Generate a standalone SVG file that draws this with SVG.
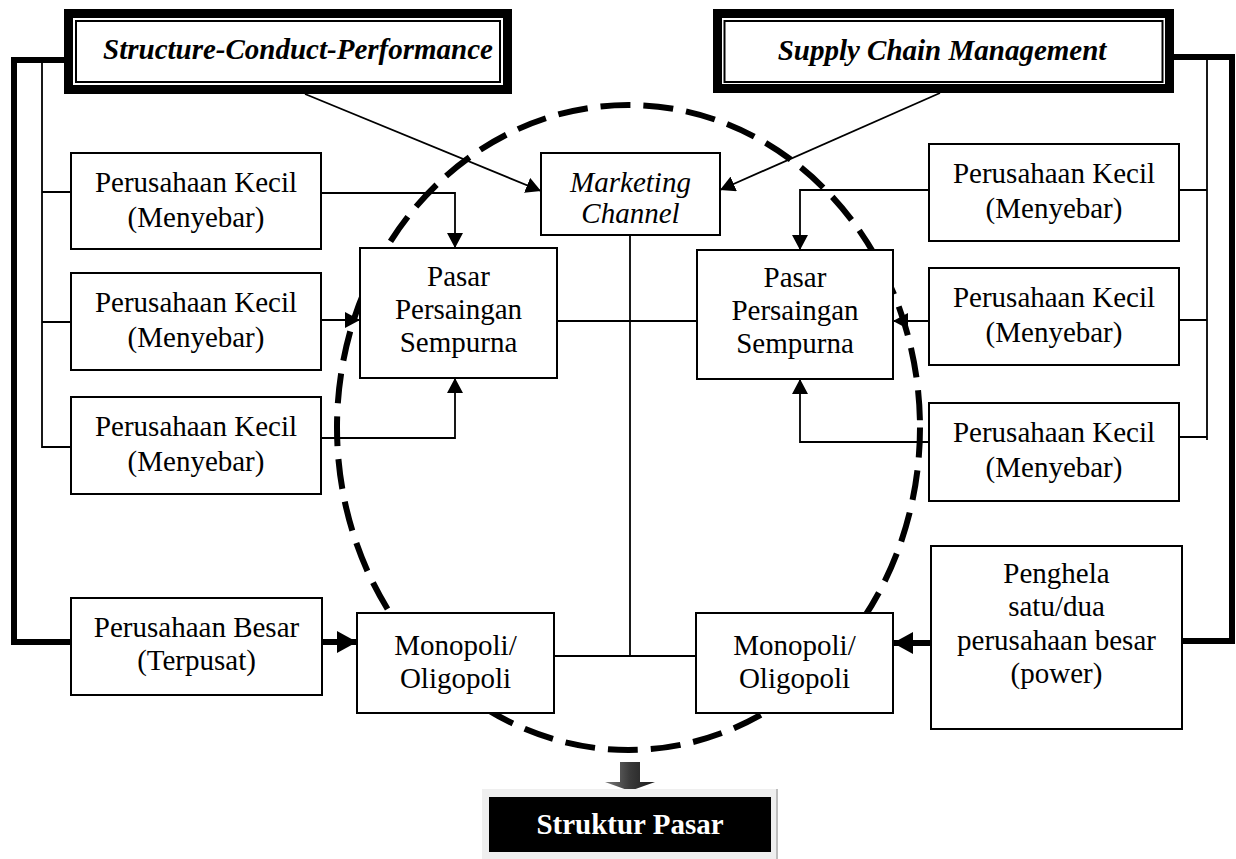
<svg xmlns="http://www.w3.org/2000/svg" width="1236" height="859" viewBox="0 0 1236 859">
  <style>
    .box { fill: #ffffff; stroke: #000000; stroke-width: 2; }
    .frame { fill: #ffffff; stroke: #000000; stroke-width: 9; }
    .frame-in { fill: none; stroke: #000000; stroke-width: 2; }
    .ln { fill: none; stroke: #000000; stroke-width: 1.8; }
    .thick { fill: none; stroke: #000000; stroke-width: 6; }
    .arr { marker-end: url(#ah); }
    .arrb { marker-end: url(#ahb); }
    .t { font-family: "Liberation Serif", "Times New Roman", serif; font-size: 29px; fill: #000000; text-anchor: middle; }
    .it { font-style: italic; }
    .hd { font-style: italic; font-weight: bold; }
    .ring { fill: none; stroke: #000000; stroke-width: 6; stroke-dasharray: 30 13; }
  </style>
  <defs>
    <marker id="ah" viewBox="0 0 15 16" refX="15" refY="8" markerWidth="15" markerHeight="16" markerUnits="userSpaceOnUse" orient="auto">
      <path d="M0,0 L15,8 L0,16 z" fill="#000000"/>
    </marker>
    <marker id="ahb" viewBox="0 0 20 22" refX="20" refY="11" markerWidth="20" markerHeight="22" markerUnits="userSpaceOnUse" orient="auto">
      <path d="M0,0 L20,11 L0,22 z" fill="#000000"/>
    </marker>
    <linearGradient id="blockArrow" x1="0" y1="0" x2="1" y2="0">
      <stop offset="0" stop-color="#7a7a7a"/>
      <stop offset="0.5" stop-color="#3a3a3a"/>
      <stop offset="1" stop-color="#1a1a1a"/>
    </linearGradient>
  </defs>

  <rect x="0" y="0" width="1236" height="859" fill="#ffffff"/>

  <!-- connectors -->
  <g id="connectors">
    <!-- left side -->
    <path class="thick" d="M64,60 H14 V642 H71"/>
    <path class="ln" d="M42,60 V448"/>
    <path class="ln" d="M42,192 H71 M42,322 H71 M42,447 H71"/>
    <path class="ln arr" d="M305,94 L541,191"/>
    <path class="ln arr" d="M321,193 H455 V248"/>
    <path class="ln arr" d="M321,320 H360"/>
    <path class="ln arr" d="M321,438 H455 V378"/>
    <path class="thick arrb" d="M322,642 H357"/>
    <!-- right side -->
    <path class="thick" d="M1174,57 H1232 V641 H1182"/>
    <path class="ln" d="M1207,57 V440"/>
    <path class="ln" d="M1179,190 H1207 M1179,320 H1207 M1179,437 H1207"/>
    <path class="ln arr" d="M940,93 L720,190"/>
    <path class="ln arr" d="M929,190 H800 V250"/>
    <path class="ln arr" d="M929,321 H893"/>
    <path class="ln arr" d="M929,442 H800 V379"/>
    <path class="thick arrb" d="M931,643 H893"/>
    <!-- centre spine -->
    <path class="ln" d="M630,235 V656"/>
    <path class="ln" d="M557,321 H697"/>
    <path class="ln" d="M554,656 H696"/>
    <!-- block arrow down to the result -->
    <path d="M620,762 H640 V782 H655 L630,791 L605,782 H620 Z" fill="url(#blockArrow)"/>
  </g>

  <!-- market boundary -->
  <ellipse id="market-ring" class="ring" cx="628.5" cy="427.5" rx="291.5" ry="322.5"/>

  <!-- headers -->
  <g id="scp">
    <rect class="frame" x="68.5" y="13.5" width="439" height="76"/>
    <rect class="frame-in" x="76" y="21" width="424" height="61"/>
    <text class="t hd" x="298" y="59">Structure-Conduct-Performance</text>
  </g>
  <g id="scm">
    <rect class="frame" x="717.5" y="13.5" width="452" height="75"/>
    <rect class="frame-in" x="724.5" y="21" width="438" height="61"/>
    <text class="t hd" x="942" y="60">Supply Chain Management</text>
  </g>

  <!-- centre -->
  <g id="marketing-channel">
    <rect class="box" x="541" y="153" width="179" height="82"/>
    <text class="t it" x="630.5" y="192">Marketing</text>
    <text class="t it" x="630.5" y="223">Channel</text>
  </g>

  <!-- left column -->
  <g id="kecil-l1">
    <rect class="box" x="71" y="153" width="250" height="96"/>
    <text class="t" x="196" y="192">Perusahaan Kecil</text>
    <text class="t" x="196" y="227">(Menyebar)</text>
  </g>
  <g id="kecil-l2">
    <rect class="box" x="71" y="273" width="250" height="97"/>
    <text class="t" x="196" y="312">Perusahaan Kecil</text>
    <text class="t" x="196" y="347">(Menyebar)</text>
  </g>
  <g id="kecil-l3">
    <rect class="box" x="71" y="397" width="250" height="97"/>
    <text class="t" x="196" y="436">Perusahaan Kecil</text>
    <text class="t" x="196" y="471">(Menyebar)</text>
  </g>
  <g id="besar-l">
    <rect class="box" x="71" y="598" width="251" height="97"/>
    <text class="t" x="196.5" y="637">Perusahaan Besar</text>
    <text class="t" x="196.5" y="670">(Terpusat)</text>
  </g>
  <g id="pasar-l">
    <rect class="box" x="360" y="248" width="197" height="130"/>
    <text class="t" x="458.5" y="286">Pasar</text>
    <text class="t" x="458.5" y="319">Persaingan</text>
    <text class="t" x="458.5" y="352">Sempurna</text>
  </g>
  <g id="monopoli-l">
    <rect class="box" x="357" y="613" width="197" height="100"/>
    <text class="t" x="455.5" y="655">Monopoli/</text>
    <text class="t" x="455.5" y="688">Oligopoli</text>
  </g>

  <!-- right column -->
  <g id="kecil-r1">
    <rect class="box" x="929" y="144" width="250" height="97"/>
    <text class="t" x="1054" y="183">Perusahaan Kecil</text>
    <text class="t" x="1054" y="218">(Menyebar)</text>
  </g>
  <g id="kecil-r2">
    <rect class="box" x="929" y="268" width="250" height="97"/>
    <text class="t" x="1054" y="307">Perusahaan Kecil</text>
    <text class="t" x="1054" y="342">(Menyebar)</text>
  </g>
  <g id="kecil-r3">
    <rect class="box" x="929" y="403" width="250" height="98"/>
    <text class="t" x="1054" y="442">Perusahaan Kecil</text>
    <text class="t" x="1054" y="477">(Menyebar)</text>
  </g>
  <g id="penghela-r">
    <rect class="box" x="931" y="546" width="251" height="183"/>
    <text class="t" x="1056.5" y="583">Penghela</text>
    <text class="t" x="1056.5" y="616">satu/dua</text>
    <text class="t" x="1056.5" y="650">perusahaan besar</text>
    <text class="t" x="1056.5" y="683">(power)</text>
  </g>
  <g id="pasar-r">
    <rect class="box" x="697" y="250" width="196" height="129"/>
    <text class="t" x="795" y="287">Pasar</text>
    <text class="t" x="795" y="320">Persaingan</text>
    <text class="t" x="795" y="353">Sempurna</text>
  </g>
  <g id="monopoli-r">
    <rect class="box" x="696" y="613" width="197" height="100"/>
    <text class="t" x="794.5" y="655">Monopoli/</text>
    <text class="t" x="794.5" y="688">Oligopoli</text>
  </g>

  <!-- result -->
  <g id="struktur-pasar">
    <rect x="482" y="789" width="296" height="72" fill="#efefef"/>
    <line x1="777" y1="789" x2="777" y2="861" stroke="#bdbdbd" stroke-width="2"/>
    <rect x="489" y="797" width="282" height="55" fill="#000000"/>
    <text class="t" x="630" y="834" style="font-weight:bold; fill:#ffffff">Struktur Pasar</text>
  </g>
</svg>
